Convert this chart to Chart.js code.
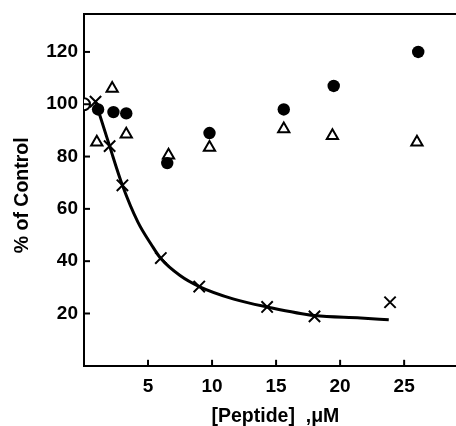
<!DOCTYPE html>
<html>
<head>
<meta charset="utf-8">
<script src="https://cdn.jsdelivr.net/npm/chart.js@4/dist/chart.umd.min.js"></script>
<style>
  html, body { margin: 0; padding: 0; background: #fff; overflow: hidden; }
  canvas { display: block; }
</style>
</head>
<body>
<canvas id="chart" width="456" height="426"></canvas>
<script>
// Datos: [Peptide] (µM) vs % of Control
const controlX = [0];
const controlY = [100];

const circleX = [1.1, 2.3, 3.3, 6.5, 9.8, 15.6, 19.5, 26.1];
const circleY = [98, 97, 96.5, 77.5, 89, 98, 107, 120];

const triX = [1.0, 2.2, 3.3, 6.6, 9.8, 15.6, 19.4, 26.0];
const triY = [85.5, 106, 88.5, 80.5, 83.5, 90.5, 88, 85.5];

const crossX = [0.9, 2.0, 3.0, 6.0, 9.0, 14.3, 18.0, 23.9];
const crossY = [101, 84, 69, 41.2, 30.3, 22.5, 18.9, 24.3];

// Curva ajustada (leída punto a punto de la figura)
const curveX = [0.9, 2.0, 3.0, 4.2, 5.3, 6.0, 7.5, 9.0, 11.7, 14.3, 18.0, 21.6, 23.8];
const curveY = [101, 84, 69, 55, 46, 41, 34.5, 30.3, 25.5, 22.5, 19.2, 18.3, 17.6];

const xTicks = [5, 10, 15, 20, 25];
const yTicks = [20, 40, 60, 80, 100, 120];

const pts = (xs, ys) => xs.map((x, i) => ({ x, y: ys[i] }));
const FAMILY = '"Liberation Sans", Arial, sans-serif';
const TICK_FONT = { family: FAMILY, size: 19, weight: 'bold' };
const TITLE_FONT = { family: FAMILY, size: 19.5, weight: 'bold' };

// Marcas cortas de los ejes hacia adentro del área de la gráfica
const innerTicks = {
    id: 'innerTicks',
    afterDraw(chart) {
        const { ctx, chartArea, scales } = chart;
        ctx.save();
        ctx.strokeStyle = '#000';
        ctx.lineWidth = 2;
        scales.x.ticks.forEach((t) => {
            const px = scales.x.getPixelForValue(t.value);
            ctx.beginPath(); ctx.moveTo(px, chartArea.bottom); ctx.lineTo(px, chartArea.bottom - 6); ctx.stroke();
        });
        scales.y.ticks.forEach((t) => {
            const py = scales.y.getPixelForValue(t.value);
            ctx.beginPath(); ctx.moveTo(chartArea.left, py); ctx.lineTo(chartArea.left + 6, py); ctx.stroke();
        });
        ctx.restore();
    }
};

new Chart(document.getElementById('chart'), {
    type: 'scatter',
    data: {
        datasets: [
            { data: pts(curveX, curveY), showLine: true, borderColor: '#000', borderWidth: 3, pointRadius: 0, cubicInterpolationMode: 'monotone', order: 5 },
            { data: pts(controlX, controlY), pointStyle: 'circle', pointRadius: 6, backgroundColor: '#fff', borderColor: '#000', borderWidth: 2 },
            { data: pts(circleX, circleY), pointStyle: 'circle', pointRadius: 6.2, backgroundColor: '#000', borderColor: '#000', borderWidth: 0 },
            { data: pts(triX, triY), pointStyle: 'triangle', pointRadius: 6.5, backgroundColor: '#fff', borderColor: '#000', borderWidth: 2 },
            { data: pts(crossX, crossY), pointStyle: 'crossRot', pointRadius: 8, borderColor: '#000', borderWidth: 2 }
        ]
    },
    options: {
        responsive: false,
        animation: false,
        layout: { autoPadding: false, padding: { top: 0, right: 0, bottom: 0, left: 4 } },
        plugins: { legend: { display: false }, tooltip: { enabled: false } },
        scales: {
            x: {
                type: 'linear', min: 0, max: 29.05,
                afterBuildTicks: (s) => { s.ticks = xTicks.map((v) => ({ value: v })); },
                afterFit: (s) => { s.paddingLeft = 0; s.paddingRight = 0; },
                grid: { display: false, drawTicks: false },
                border: { display: true, color: '#000', width: 2 },
                ticks: { color: '#000', font: TICK_FONT, padding: 10, maxRotation: 0 },
                title: { display: true, text: '\u00A0\u00A0[Peptide]  ,μM', color: '#000', font: TITLE_FONT, padding: { top: -4, bottom: -2 } }
            },
            x2: {
                type: 'linear', position: 'top', min: 0, max: 29.05,
                grid: { display: false, drawTicks: false },
                border: { display: true, color: '#000', width: 2 },
                ticks: { display: false },
                afterFit: (s) => { s.height = 14; s.paddingLeft = 0; s.paddingRight = 0; }
            },
            y: {
                type: 'linear', min: 0, max: 134.5,
                afterBuildTicks: (s) => { s.ticks = yTicks.map((v) => ({ value: v })); },
                afterFit: (s) => { s.width = 80; s.paddingTop = 0; s.paddingBottom = 0; },
                grid: { display: false, drawTicks: false },
                border: { display: true, color: '#000', width: 2 },
                ticks: { color: '#000', font: TICK_FONT, padding: 6 },
                title: { display: true, text: '% of Control\u00A0\u00A0', color: '#000', font: TITLE_FONT, padding: { top: 7, bottom: 0 } }
            }
        }
    },
    plugins: [innerTicks]
});
</script>
</body>
</html>
